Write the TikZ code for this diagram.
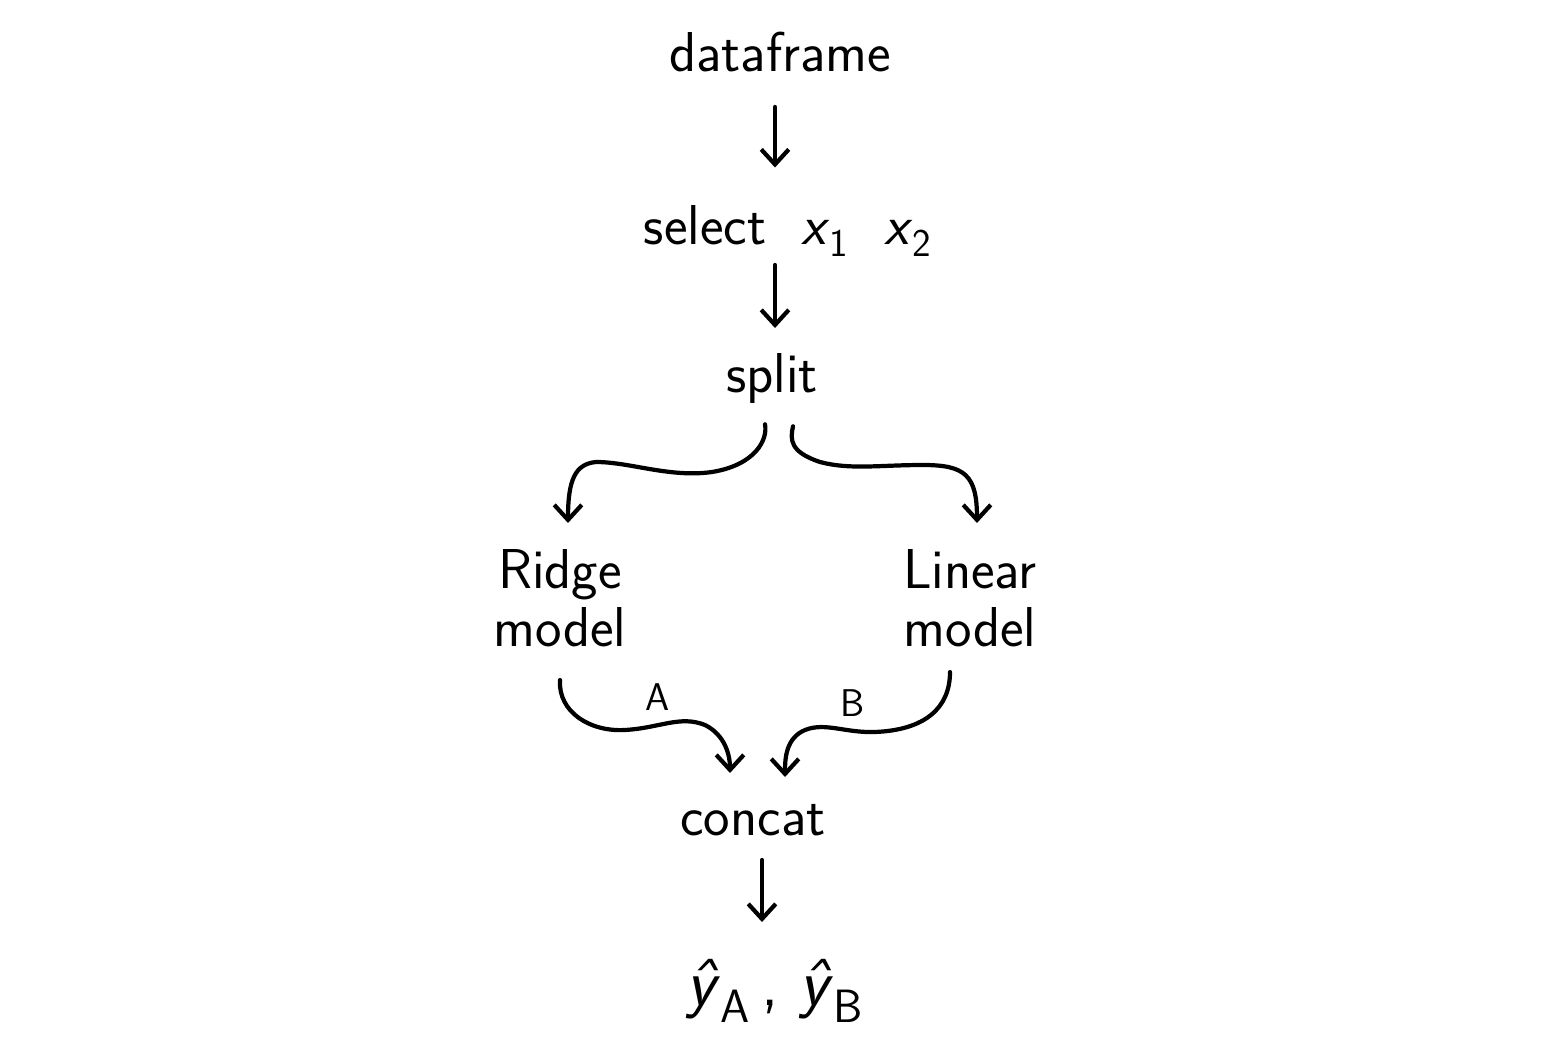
\documentclass[tikz,border=0pt]{standalone}
\usetikzlibrary{arrows.meta}
\renewcommand{\familydefault}{\sfdefault}
\begin{document}
\begin{tikzpicture}[x=0.02cm,y=-0.02cm,
  lbl/.style={font=\fontsize{32}{34}\selectfont, inner sep=0pt, anchor=base},
  two/.style={font=\fontsize{32}{33}\selectfont, inner sep=0pt, align=center},
  small/.style={font=\fontsize{22}{24}\selectfont, inner sep=0pt},
  arr/.style={line width=2.4pt, line cap=round, line join=round,
    -{Straight Barb[length=0.3cm,width=0.55cm,line width=2.4pt]}}]
\useasboundingbox (0,0) rectangle (1546,1044);
\node[lbl] (df) at (780,72) {dataframe};
\node[lbl] (sel) at (788,245) {select\ \ \textit{x}\textsubscript{1}\ \ \textit{x}\textsubscript{2}};
\node[lbl] (split) at (772,393) {split};
\node[two] (ridge) at (560,598) {Ridge\\model};
\node[two] (linear) at (970,598) {Linear\\model};
\node[lbl] (concat) at (753,835) {concat};
\node[lbl, font=\fontsize{38}{40}\selectfont] (yhat) at (775,1005) {\textit{\^{y}}\textsubscript{A}\,,\ \textit{\^{y}}\textsubscript{B}};
\node[small] (la) at (658,697) {A};
\node[small] (lb) at (853,703) {B};
% straight arrows
\draw[arr] ([xshift=-0.1cm,yshift=-0.7cm]df.base) -- ([xshift=-0.1cm,yshift=1.55cm]df.base |- sel.base);
\draw[arr] ([xshift=-0.26cm,yshift=-0.4cm]sel.base) -- ([xshift=-0.26cm,yshift=1.3cm]sel.base |- split.base);
\draw[arr] ([xshift=0.18cm,yshift=-0.5cm]concat.base) -- ([xshift=0.18cm,yshift=1.66cm]concat.base |- yhat.base);
% split branches
\draw[arr] ([xshift=-0.14cm,yshift=-0.4cm]split.south) .. controls (768,440) and (755,465) .. (712,472)
  .. controls (670,478) and (630,462) .. (596,462)
  .. controls (575,464) and (568,480) .. (568,523);
\draw[arr] ([xshift=0.42cm,yshift=-0.44cm]split.south) .. controls (790,440) and (790,452) .. (820,462)
  .. controls (850,470) and (880,465) .. (923,465)
  .. controls (965,465) and (977,475) .. (977,523);
% merges
\draw[arr] ([yshift=-0.66cm]ridge.south) .. controls (558,712) and (590,732) .. (625,730)
  .. controls (660,728) and (680,715) .. (705,725)
  .. controls (725,735) and (730,755) .. (730,773);
\draw[arr] ([xshift=-0.4cm,yshift=-0.5cm]linear.south) .. controls (950,708) and (925,730) .. (875,732)
  .. controls (845,733) and (825,722) .. (805,730)
  .. controls (786,738) and (785,758) .. (785,777);
\end{tikzpicture}
\end{document}
